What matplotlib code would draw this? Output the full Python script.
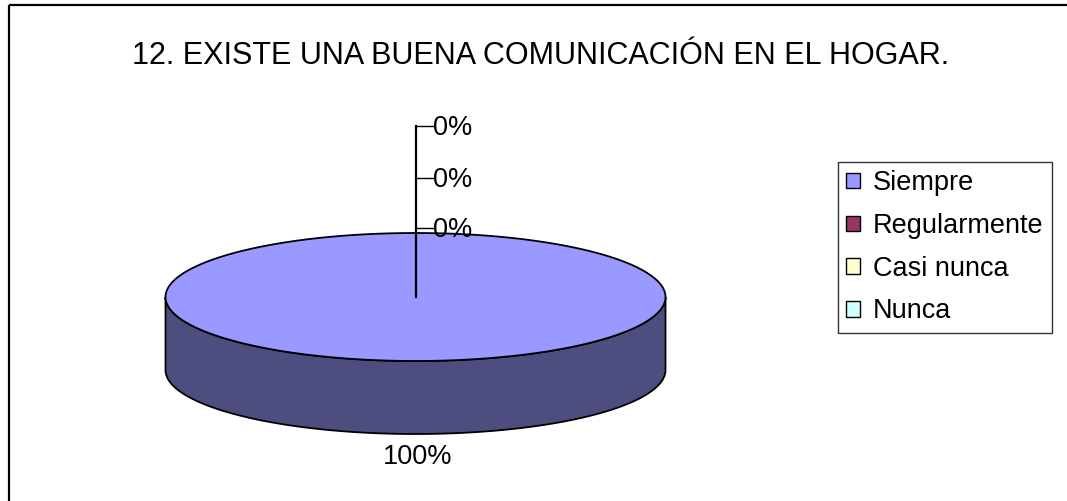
import numpy as np
import matplotlib
matplotlib.use("Agg")
import matplotlib.pyplot as plt
from matplotlib.patches import Polygon, Patch, Rectangle

plt.rcParams['font.family'] = ['Liberation Sans', 'DejaVu Sans']

# ---- data ----
title = "12. EXISTE UNA BUENA COMUNICACIÓN EN EL HOGAR."
categories = ["Siempre", "Regularmente", "Casi nunca", "Nunca"]
values = [100, 0, 0, 0]
colors = ["#9999FF", "#993366", "#FFFFCC", "#CCFFFF"]

W, H = 1067, 501
fig = plt.figure(figsize=(W / 100, H / 100), dpi=100)
ax = fig.add_axes([0, 0, 1, 1])
ax.set_xlim(0, W)
ax.set_ylim(H, 0)
ax.axis("off")

# outer chart-area border (extends beyond the image on right/bottom)
ax.add_patch(Rectangle((9, 5), W + 20, H + 20, fill=False, ec="black", lw=1.6, zorder=0))

ax.text(541, 56, title, ha="center", va="center", fontsize=22, color="black")

# ---- 3D pie geometry ----
cx, cy, a, b, depth = 415.5, 297.0, 250.0, 64.0, 73.0
total = float(sum(values))
fracs = [v / total for v in values]


def pt(phi, dy=0.0):
    # phi: angle clockwise from 12 o'clock
    return cx + a * np.sin(phi), cy - b * np.cos(phi) + dy


def darker(c, f=0.5):
    r, g, bb = matplotlib.colors.to_rgb(c)
    return (r * f, g * f, bb * f)


start = 0.0
slices = []
for frac, col in zip(fracs, colors):
    end = start + frac * 2 * np.pi
    slices.append((start, end, col))
    start = end

# sides (front visible half: phi in [pi/2, 3pi/2])
for s, e, col in slices:
    lo, hi = max(s, np.pi / 2), min(e, 3 * np.pi / 2)
    if hi > lo:
        ph = np.linspace(lo, hi, 200)
        xt, yt = pt(ph)
        xb, yb = pt(ph[::-1], depth)
        poly = np.column_stack([np.concatenate([xt, xb]), np.concatenate([yt, yb])])
        ax.add_patch(Polygon(poly, closed=True, fc=darker(col), ec="black", lw=1.3, zorder=2))

# top faces
for s, e, col in slices:
    if e - s <= 0:
        continue
    ph = np.linspace(s, e, 400)
    xs, ys = pt(ph)
    if e - s < 2 * np.pi - 1e-9:
        xs = np.concatenate([[cx], xs])
        ys = np.concatenate([[cy], ys])
    ax.add_patch(Polygon(np.column_stack([xs, ys]), closed=True, fc=col, ec="black", lw=1.3, zorder=3))

# ---- data labels ----
pcts = [f"{round(f * 100):d}%" for f in fracs]
zero_y = [228, 178, 126]
zi = 0
top_line = cy
for f, lab, (s, e, col) in zip(fracs, pcts, slices):
    if f > 0:
        ax.text(cx + 2, 457, lab, ha="center", va="center", fontsize=19.5, zorder=5)
    else:
        y = zero_y[zi]
        zi += 1
        top_line = min(top_line, y)
        ax.plot([cx, cx + 17], [y, y], color="black", lw=1.0, zorder=4)
        ax.text(cx + 18, y + 2, lab, ha="left", va="center", fontsize=19.5, zorder=5)
if zi:
    ax.plot([cx, cx], [cy, top_line], color="black", lw=1.6, zorder=4)

# ---- legend ----
handles = [Patch(facecolor=c, edgecolor="black", lw=1.0) for c in colors]
leg = fig.legend(handles, categories, loc="upper left",
                 bbox_to_anchor=(838 / W, 1 - 162 / H), bbox_transform=fig.transFigure,
                 fontsize=19.5, frameon=True, fancybox=False, shadow=False,
                 handlelength=0.5, handleheight=0.5, handletextpad=0.5,
                 labelspacing=0.62, borderpad=0.3, borderaxespad=0.0)
leg.get_frame().set_edgecolor("black")
leg.get_frame().set_linewidth(1.0)

fig.savefig("out.png", dpi=100)
